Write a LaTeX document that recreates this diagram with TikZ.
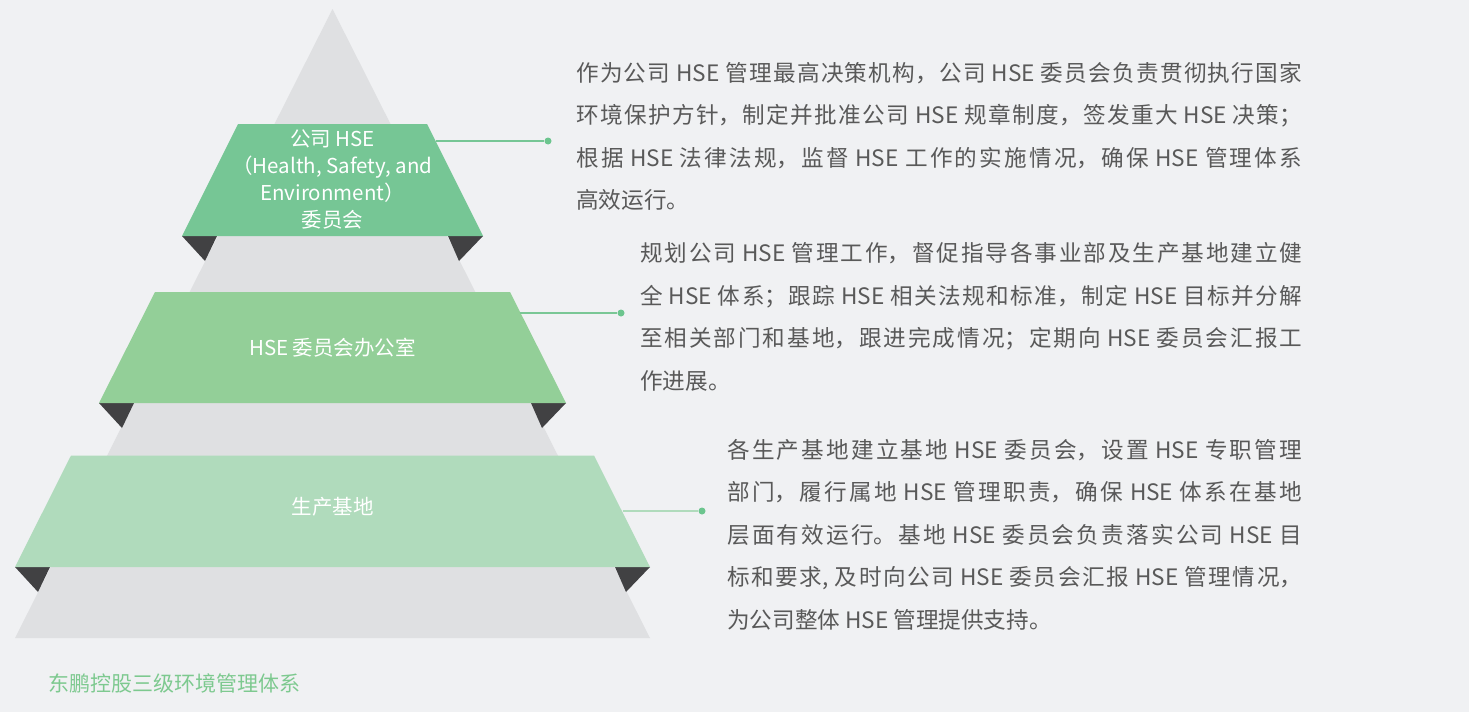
\documentclass[tikz,border=0pt]{standalone}
\usepackage{fontspec}
\usepackage{tikz}
\newfontfamily\cjk{Noto Sans CJK SC}
\definecolor{bg}{HTML}{F0F1F3}
\definecolor{pyr}{HTML}{DFE0E2}
\definecolor{bandA}{HTML}{76C695}
\definecolor{bandB}{HTML}{93CF98}
\definecolor{bandC}{HTML}{B0DBBC}
\definecolor{feet}{HTML}{414143}
\definecolor{txtgray}{HTML}{595959}
\definecolor{capgreen}{HTML}{7DC98F}
\definecolor{dotgreen}{HTML}{6CC58E}
\newcommand{\zhpar}{\XeTeXlinebreaklocale "zh"\XeTeXlinebreakskip=0pt plus 4pt minus 1.5pt\relax}

\begin{document}
\begin{tikzpicture}[x=1pt,y=-1pt,
  lab/.style={text=white, font=\cjk\fontsize{20.5}{27}\selectfont, align=center, inner sep=0pt},
  para/.style={text=txtgray, font=\cjk\fontsize{22.6}{42.5}\selectfont\zhpar, align=justify, inner sep=0pt, anchor=base west},
  dot/.style={circle, fill=dotgreen, inner sep=0pt, minimum size=7pt}]
\fill[bg] (0,0) rectangle (1469,712);
\useasboundingbox (0,0) rectangle (1469,712);
\fill[pyr] (332.5,9) -- (650,638) -- (15,638) -- cycle;
\foreach \l/\r/\b in {182/483/236, 99/566/403, 15/650/567}{
  \fill[feet] (\l,\b) -- ++(35,0) -- ++(-12,25) -- cycle;
  \fill[feet] (\r,\b) -- ++(-35,0) -- ++(11,25) -- cycle;
}
\fill[bandA] (238,124) -- (427,124) -- (483,236) -- (182,236) -- cycle;
\fill[bandB] (155,292) -- (510,292) -- (566,403) -- (99,403) -- cycle;
\fill[bandC] (71,455.5) -- (594,455.5) -- (650,567) -- (15,567) -- cycle;

\node[lab] (committee) at (332.5,179.5) {公司 HSE\\（Health, Safety, and\\Environment）\\委员会};
\node[lab] (office) at (332.5,348) {HSE 委员会办公室};
\node[lab] (base) at (332.5,507) {生产基地};

\coordinate (e1) at (435.5,141);
\coordinate (e2) at (519.5,313);
\coordinate (e3) at (622.5,511);
\node[dot] (d1) at (548,141) {};
\node[dot] (d2) at (621,313) {};
\node[dot] (d3) at (702,511) {};
\draw[bandA, line width=1.5pt] (e1) -- (d1);
\draw[bandA!85!bandB, line width=1.5pt] (e2) -- (d2);
\draw[bandC, line width=1.5pt] (e3) -- (d3);

\node[para, text width=726pt] (duty1) at (576,81) {作为公司 HSE 管理最高决策机构，公司 HSE 委员会负责贯彻执行国家\linebreak
环境保护方针，制定并批准公司 HSE 规章制度，签发重大 HSE 决策；\linebreak
根据 HSE 法律法规，监督 HSE 工作的实施情况，确保 HSE 管理体系\linebreak
高效运行。};
\node[para, text width=662pt] (duty2) at (640,261.5) {规划公司 HSE 管理工作，督促指导各事业部及生产基地建立健\linebreak
全 HSE 体系；跟踪 HSE 相关法规和标准，制定 HSE 目标并分解\linebreak
至相关部门和基地，跟进完成情况；定期向 HSE 委员会汇报工\linebreak
作进展。};
\node[para, text width=575pt] (duty3) at (727,458.4) {各生产基地建立基地 HSE 委员会，设置 HSE 专职管理\linebreak
部门，履行属地 HSE 管理职责，确保 HSE 体系在基地\linebreak
层面有效运行。基地 HSE 委员会负责落实公司 HSE 目\linebreak
标和要求, 及时向公司 HSE 委员会汇报 HSE 管理情况，\linebreak
为公司整体 HSE 管理提供支持。};

\node[anchor=base west, inner sep=0pt, text=capgreen, font=\cjk\fontsize{21}{27}\selectfont] (caption) at (48,691) {东鹏控股三级环境管理体系};
\end{tikzpicture}
\end{document}
